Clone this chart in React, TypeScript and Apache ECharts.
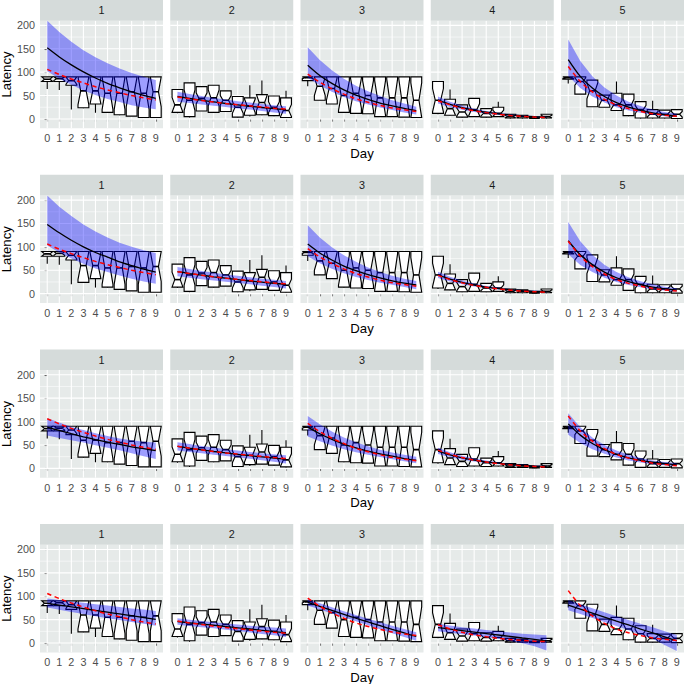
import React, { useEffect, useRef } from 'react';
import * as echarts from 'echarts';

const days = [0, 1, 2, 3, 4, 5, 6, 7, 8, 9];
const facets = ['1', '2', '3', '4', '5'];
const yBreaks = [0, 50, 100, 150, 200];
const yMinor = [25, 75, 125, 175];

// boxes: [q1, median, q3, notch half-width, whisker low, whisker high] per day
const boxF1 = [
  [80, 85, 90, 5, 64, 90], [80, 86, 90, 4, 62, 90], [72, 82, 90, 8, 20, 90], [24, 60, 90, 30, 23, 90],
  [32, 60, 90, 28, 13, 90], [14, 55, 90, 35, 13, 90], [9, 55, 90, 35, 8, 90], [6, 58, 90, 32, 6, 90],
  [3, 55, 90, 35, 3, 90], [3, 58, 90, 32, 3, 90],
];
const boxF2 = [
  [14, 30, 63, 16, 12, 63], [5, 40, 77, 22, 3, 77], [17, 44, 69, 12, 17, 69], [14, 45, 72, 17, 13, 72],
  [16, 40, 60, 10, 16, 60], [4, 25, 48, 13, 3, 48], [8, 28, 45, 15, 5, 72], [9, 35, 52, 17, 8, 82],
  [7, 25, 49, 12, 6, 49], [3, 18, 45, 13, 2, 60],
];
const boxF3 = [
  [82, 88, 90, 2, 70, 90], [40, 70, 90, 20, 40, 90], [32, 65, 90, 25, 32, 90], [14, 50, 90, 32, 13, 90],
  [12, 55, 90, 32, 12, 90], [11, 50, 90, 32, 11, 90], [5, 45, 90, 37, 5, 90], [5, 45, 90, 40, 5, 90],
  [4, 45, 90, 41, 4, 90], [3, 40, 90, 37, 3, 90],
];
const boxF4 = [
  [12, 40, 80, 25, 10, 80], [8, 22, 42, 14, 7, 63], [4, 15, 30, 9, 3, 30], [5, 20, 44, 13, 4, 44],
  [4, 12, 22, 6, 3, 22], [5, 12, 25, 7, 4, 37], [2, 5, 10, 3, 1, 10], [2, 5, 8, 2, 1, 8],
  [1, 2, 4, 1, 1, 4], [2, 5, 10, 3, 1, 10],
];
const boxF5 = [
  [85, 88, 90, 2, 76, 90], [53, 80, 90, 8, 53, 90], [26, 60, 83, 17, 26, 83], [25, 40, 51, 12, 25, 51],
  [18, 30, 55, 9, 18, 80], [7, 30, 53, 12, 6, 53], [2, 20, 37, 9, 1, 37], [2, 10, 20, 6, 1, 39],
  [2, 10, 19, 6, 1, 19], [1, 10, 20, 6, 1, 20],
];

// red dashed reference curve per facet (same in every row)
const redCurve = [
  [106, 95, 85.5, 77, 69, 62, 56, 50, 45, 40.5],
  [47, 43, 39.5, 36, 33, 30.5, 28, 25.5, 23, 21],
  [96, 78.5, 64.5, 53, 43, 35.5, 29, 23.5, 19.5, 16],
  [39, 30, 23, 17.5, 13.5, 10, 7.5, 5.5, 4, 3],
  [112, 80, 58, 42, 30, 22, 16, 11, 8, 5.5],
];

const fitRow1 = [
  [152, 132.5, 115.5, 100.5, 87.5, 76, 66.5, 58, 50.5, 44],
  [48, 44, 40, 36.5, 33, 30, 27, 24.5, 22, 20],
  [115, 93, 76, 62, 51, 42, 34, 28, 22.5, 18],
  [40, 31, 24, 18.5, 14.5, 11, 8.5, 6.5, 5, 4],
  [127, 91, 66, 48, 35, 25.5, 18.5, 13, 9, 6],
];
const hiRow1 = [
  [210, 186, 165, 147, 132, 119, 108, 98, 90, 83],
  [58, 53.5, 49, 45, 41.5, 38, 35, 32, 29.5, 27],
  [153, 126, 104, 86, 71, 59, 49, 40, 33, 26],
  [48, 37, 28.5, 22, 17, 13.5, 10.5, 8, 6.5, 5.5],
  [170, 124, 91, 67, 50, 37, 27.5, 20, 15, 11],
];
const loRow1 = [
  [102, 86, 73, 61, 51, 42.5, 36, 29.5, 24.5, 20.5],
  [37, 34, 31, 28, 25.5, 22.5, 20, 17, 14, 11],
  [88, 72, 58, 47, 38, 31, 24.5, 19, 14, 9.5],
  [33, 25.5, 19.5, 15, 11.5, 8.5, 6.5, 4.5, 3.5, 2.5],
  [92, 66, 48, 35, 25, 18, 13, 9, 6, 4],
];

const fitRow2 = [
  [148, 130, 114, 100, 88, 78, 68, 60, 52.5, 46],
  [47, 43, 39.5, 36, 33, 30, 27, 24.5, 22, 20],
  [106, 87, 72, 59, 49, 40.5, 33.5, 27.5, 22.5, 18.5],
  [40, 31, 24, 18.5, 14, 11, 8.5, 6.5, 5, 4],
  [113, 83, 62, 46, 34, 25.5, 19, 14, 10.5, 7.5],
];
const hiRow2 = [
  [210, 186, 166, 148, 133, 120, 109, 100, 93, 87],
  [57, 52.5, 48.5, 44.5, 41, 38, 35, 32, 29.5, 27],
  [146, 120, 99, 82, 68, 56, 46.5, 38.5, 32, 27],
  [47, 36, 28, 21.5, 16.5, 13, 10, 8, 6.5, 5.5],
  [153, 112, 83, 62, 46, 35, 26.5, 20, 15, 11.5],
];
const loRow2 = [
  [103, 88, 75, 64, 54, 46, 39, 32, 26, 21],
  [37, 34, 31, 28, 25.5, 22.5, 20, 17, 14, 11],
  [80, 65, 53, 43.5, 35.5, 29, 23.5, 19, 14, 9.5],
  [33.5, 26, 20, 15.5, 12, 9, 6.5, 5, 3.5, 2.5],
  [84, 61, 46, 34, 25, 18.5, 13.5, 9.5, 6.5, 4],
];

const fitRow3 = [
  [88, 81, 74, 67.5, 61.5, 56, 51, 46, 42, 38],
  [47, 43, 39.5, 36, 33, 30, 27, 24.5, 22, 19.5],
  [88, 74, 62, 52, 44, 37, 31, 26, 21, 17.5],
  [37, 29, 22.5, 17.5, 14, 11, 8.5, 6.5, 5, 4],
  [95, 71, 53, 40, 30, 22.5, 17, 13, 10, 7.5],
];
const hiRow3 = [
  [107, 98, 89, 82, 75, 69, 64, 60, 57, 55],
  [56, 52, 48, 44.5, 41, 38, 35, 32.5, 30, 28],
  [112, 94, 79, 66, 56, 47, 40, 34, 29, 25],
  [44, 34.5, 27, 21, 16.5, 13, 10, 8, 6.5, 5.5],
  [118, 88, 66, 50, 38, 29, 22, 17, 13.5, 11],
];
const loRow3 = [
  [70, 65, 60, 55, 49.5, 44, 38.5, 32, 26, 20],
  [38, 35, 32, 29, 26.5, 23.5, 20.5, 17.5, 14, 10.5],
  [68, 58, 49, 41, 34.5, 29, 24, 19.5, 15, 11],
  [30.5, 24, 18.5, 14.5, 11.5, 9, 6.5, 5, 3.5, 2.5],
  [72, 54, 41, 31, 23, 17, 12.5, 9, 6.5, 4.5],
];

const fitRow4 = [
  [85, 81.2, 77.4, 73.6, 69.8, 66, 62.2, 58.4, 54.6, 50.8],
  [46, 43.3, 40.6, 38, 35.3, 32.6, 30, 27.3, 24.6, 22],
  [87, 78.5, 70, 61.5, 53, 45, 37, 29, 21.5, 14],
  [33, 29.8, 26.7, 23.5, 20.3, 17.2, 14, 10.8, 7.7, 4.5],
  [81, 72.5, 64, 55.5, 47, 38.6, 30, 21.5, 13, 4.5],
];
const hiRow4 = [
  [95, 92, 89, 86, 83, 80, 77, 74, 71.5, 68.5],
  [53, 50, 47, 44.5, 42, 39.5, 37, 35, 33, 31],
  [94, 85, 76.5, 68, 60, 52, 44.5, 37, 30, 23],
  [41, 37.5, 34, 31, 28, 25, 22.5, 20, 18, 16.5],
  [92, 83, 74.5, 66, 57.5, 49.5, 41.5, 33.5, 25, 17],
];
const loRow4 = [
  [76, 71, 66.5, 62, 57.5, 53, 49, 45, 41, 37],
  [39, 36.5, 34, 31.5, 28.5, 25.5, 22.5, 19.5, 16.5, 13],
  [80, 71.5, 63, 55, 46.5, 38, 29.5, 21, 13, 5],
  [25, 22, 19, 16, 12.5, 9, 4.5, -0.5, -7, -16],
  [70, 62, 53.5, 45, 36.5, 27.5, 18.5, 9, -4, -17],
];

const boxes = [boxF1, boxF2, boxF3, boxF4, boxF5];
const fits = [fitRow1, fitRow2, fitRow3, fitRow4];
const his = [hiRow1, hiRow2, hiRow3, hiRow4];
const los = [loRow1, loRow2, loRow3, loRow4];

const PANEL_BG = '#E6EAE9';
const STRIP_BG = '#D5DBDA';
const FONT = '"Liberation Sans", Arial, Helvetica, sans-serif';

export default function App() {
  const ref = useRef<HTMLDivElement>(null);
  useEffect(() => {
    const chart = echarts.init(ref.current as HTMLDivElement, null, { renderer: 'svg' });
    const grid: any[] = [];
    const xAxis: any[] = [];
    const yAxis: any[] = [];
    const series: any[] = [];
    const graphic: any[] = [];
    const ROW_H = 174.7;
    const STRIP_H = 20.7;
    const PANEL_H = 107.6;
    const PANEL_W = 123;
    const GAP = 130.25;

    for (let r = 0; r < 4; r++) {
      const rowTop = r * ROW_H;
      for (let c = 0; c < 5; c++) {
        const i = r * 5 + c;
        const left = 40 + c * GAP;
        grid.push({
          left, top: rowTop + STRIP_H, width: PANEL_W, height: PANEL_H,
          show: true, backgroundColor: PANEL_BG, borderWidth: 0, containLabel: false,
        });
        xAxis.push({
          type: 'value', gridIndex: i, min: -0.6, max: 9.6,
          axisLine: { show: false },
          axisTick: { show: true, length: 2.7, lineStyle: { color: '#333333', width: 1.1 }, customValues: days },
          axisLabel: { show: true, customValues: days, margin: 4.5, fontSize: 10.8, color: '#4D4D4D', fontFamily: FONT },
          splitLine: { show: false },
        });
        yAxis.push({
          type: 'value', gridIndex: i, min: -20, max: 210,
          axisLine: { show: false },
          axisTick: { show: c === 0, length: 2.7, lineStyle: { color: '#333333', width: 1.1 }, customValues: yBreaks },
          axisLabel: { show: c === 0, customValues: yBreaks, margin: 5, fontSize: 10.8, color: '#4D4D4D', fontFamily: FONT },
          splitLine: { show: false },
        });
        // grid lines
        series.push({
          type: 'custom', xAxisIndex: i, yAxisIndex: i, silent: true, clip: true,
          data: [[0, 0]],
          renderItem: (params: any, api: any) => {
            const cs = params.coordSys;
            const children: any[] = [];
            yMinor.forEach((v) => {
              const p = api.coord([0, v]);
              children.push({ type: 'line', shape: { x1: cs.x, y1: p[1], x2: cs.x + cs.width, y2: p[1] }, style: { stroke: '#FFFFFF', lineWidth: 0.55 } });
            });
            yBreaks.forEach((v) => {
              const p = api.coord([0, v]);
              children.push({ type: 'line', shape: { x1: cs.x, y1: p[1], x2: cs.x + cs.width, y2: p[1] }, style: { stroke: '#FFFFFF', lineWidth: 1.1 } });
            });
            days.forEach((d) => {
              const p = api.coord([d, 0]);
              children.push({ type: 'line', shape: { x1: p[0], y1: cs.y, x2: p[0], y2: cs.y + cs.height }, style: { stroke: '#FFFFFF', lineWidth: 1.1 } });
            });
            return { type: 'group', children };
          },
        });
        // notched boxplots
        series.push({
          type: 'custom', xAxisIndex: i, yAxisIndex: i, silent: true, clip: true,
          data: boxes[c].map((b, j) => [days[j], ...b]),
          renderItem: (params: any, api: any) => {
            const x = api.value(0);
            const q1 = api.value(1), med = api.value(2), q3 = api.value(3), nh = api.value(4);
            const lo = api.value(5), hi = api.value(6);
            const hw = 0.45, ind = 0.225;
            const nu = med + nh, nl = med - nh;
            const pts = [
              [x - hw, q3], [x - hw, nu], [x - hw + ind, med], [x - hw, nl], [x - hw, q1],
              [x + hw, q1], [x + hw, nl], [x + hw - ind, med], [x + hw, nu], [x + hw, q3],
            ].map((p) => api.coord(p));
            const children: any[] = [];
            const cx = api.coord([x, 0])[0];
            if (hi > q3) {
              children.push({ type: 'line', shape: { x1: cx, y1: api.coord([x, q3])[1], x2: cx, y2: api.coord([x, hi])[1] }, style: { stroke: '#000', lineWidth: 1.1 } });
            }
            if (lo < q1) {
              children.push({ type: 'line', shape: { x1: cx, y1: api.coord([x, q1])[1], x2: cx, y2: api.coord([x, lo])[1] }, style: { stroke: '#000', lineWidth: 1.1 } });
            }
            children.push({ type: 'polygon', shape: { points: pts }, style: { fill: '#FFFFFF', stroke: '#000000', lineWidth: 1.15, lineJoin: 'miter' } });
            const m1 = api.coord([x - hw + ind, med]);
            const m2 = api.coord([x + hw - ind, med]);
            children.push({ type: 'line', shape: { x1: m1[0], y1: m1[1], x2: m2[0], y2: m2[1] }, style: { stroke: '#000', lineWidth: 1.6 } });
            return { type: 'group', children };
          },
        });
        // fitted black curve
        series.push({
          type: 'line', xAxisIndex: i, yAxisIndex: i, silent: true, symbol: 'none', smooth: 0.3,
          data: days.map((d, j) => [d, fits[r][c][j]]),
          lineStyle: { color: '#000000', width: 1.3 },
        });
        // confidence ribbon
        const hiArr = his[r][c];
        const loArr = los[r][c];
        series.push({
          type: 'custom', xAxisIndex: i, yAxisIndex: i, silent: true, clip: true,
          data: [[0, 0]],
          renderItem: (params: any, api: any) => {
            const pts: number[][] = [];
            days.forEach((d, j) => pts.push(api.coord([d, hiArr[j]])));
            for (let j = days.length - 1; j >= 0; j--) pts.push(api.coord([days[j], loArr[j]]));
            return { type: 'polygon', shape: { points: pts }, style: { fill: 'rgba(0,0,255,0.38)' } };
          },
        });
        // red dashed reference
        series.push({
          type: 'line', xAxisIndex: i, yAxisIndex: i, silent: true, symbol: 'none', smooth: 0.3,
          data: days.map((d, j) => [d, redCurve[c][j]]),
          lineStyle: { color: '#FF0000', width: 1.5, type: [4.5, 3.5] },
        });
        // strip
        graphic.push({
          type: 'rect', left: left, top: rowTop, shape: { x: 0, y: 0, width: PANEL_W, height: STRIP_H },
          style: { fill: STRIP_BG }, silent: true,
        });
        graphic.push({
          type: 'text', x: left + PANEL_W / 2, y: rowTop + STRIP_H / 2,
          style: { text: facets[c], fontSize: 10.8, fill: '#1A1A1A', fontFamily: FONT, align: 'center', verticalAlign: 'middle' },
          silent: true,
        });
      }
      graphic.push({
        type: 'text', x: 6.5, y: rowTop + STRIP_H + PANEL_H / 2, rotation: Math.PI / 2,
        style: { text: 'Latency', fontSize: 13.2, fill: '#000000', fontFamily: FONT, align: 'center', verticalAlign: 'middle' },
        silent: true,
      });
      graphic.push({
        type: 'text', x: 362, y: rowTop + 153.5,
        style: { text: 'Day', fontSize: 13.2, fill: '#000000', fontFamily: FONT, align: 'center', verticalAlign: 'middle' },
        silent: true,
      });
    }

    chart.setOption({
      animation: false,
      backgroundColor: '#FFFFFF',
      grid, xAxis, yAxis, series, graphic,
    });
    return () => chart.dispose();
  }, []);
  return <div ref={ref} style={{ position: 'fixed', left: 0, top: 0, width: 685, height: 684 }} />;
}
